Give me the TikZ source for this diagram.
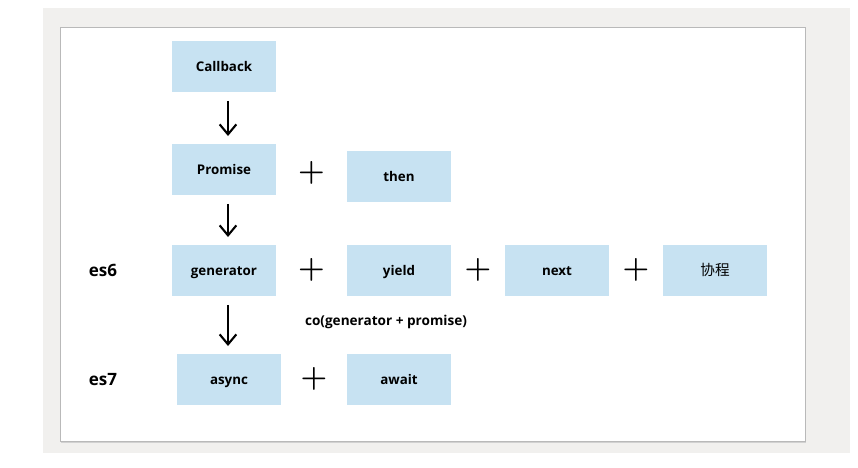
\documentclass[tikz,border=0pt]{standalone}
\usepackage{fontspec}
\setmainfont{Open Sans}
\newfontfamily\cjk{Noto Sans CJK SC}
\newfontfamily\plusfont{Latin Modern Roman}
\usepackage{xcolor}
\usetikzlibrary{arrows.meta, positioning, calc}

\definecolor{boxblue}{HTML}{C7E2F2}
\definecolor{pagegray}{HTML}{F1F0EE}
\definecolor{framegray}{HTML}{B9B9B9}

\begin{document}
\begin{tikzpicture}[x=0.03cm, y=-0.03cm, thick, >={Straight Barb[length=0.3cm, width=0.5cm]}]

		% Define block styles
		\tikzstyle{block} = [rectangle, fill=boxblue, minimum width=3.12cm, minimum height=1.53cm, inner sep=0pt, font=\bfseries\fontsize{11.4}{13}\selectfont, text height=11.6pt, text depth=1.4pt, text centered]
		\tikzstyle{plus} = [inner sep=0pt, font=\plusfont\bfseries\fontsize{26}{26}\selectfont]
		\tikzstyle{tag} = [font=\bfseries\fontsize{14.5}{16}\selectfont]
		\tikzstyle{flow} = [->, line width=1.8pt, shorten <=0.27cm, shorten >=0.21cm]

		% Background and frame
		\useasboundingbox (0,0) rectangle (858,467);
		\fill[pagegray] (43,8) rectangle (850,453);
		\fill[black!18] (61,28) rectangle (806,443);
		\draw[framegray, fill=white, line width=0.6pt] (60,27) rectangle (805,441);

		% Nodes
		\node[block] (callback) at (224,66) {Callback};
		\node[block, below of=callback, node distance=3.09cm] (promise) {Promise};
		\node[block, below of=promise, node distance=3.03cm] (generator) {generator};
		\node[block] (async) at (229,379) {async};
		\node[block] (then) at (399,176) {then};
		\node[block, right of=generator, node distance=5.25cm] (yield) {yield};
		\node[block, right of=yield, node distance=4.74cm] (next) {next};
		\node[block, right of=next, node distance=4.74cm] (xiecheng) {\cjk\mdseries\fontsize{12.5}{14}\selectfont 协程};
		\node[block] (await) at (399,379) {await};

		% Plus signs
		\node[plus] (p1) at ($(promise.east)!0.5!(then.west)$) {+};
		\node[plus] (p2) at ($(generator.east)!0.5!(yield.west)$) {+};
		\node[plus] (p3) at ($(yield.east)!0.5!(next.west)$) {+};
		\node[plus] (p4) at ($(next.east)!0.5!(xiecheng.west)$) {+};
		\node[plus] (p5) at ($(async.east)!0.5!(await.west)$) {+};

		% Arrows
		\draw[flow] ([xshift=0.12cm]callback.south) -- ([xshift=0.12cm]promise.north);
		\draw[flow] ([xshift=0.12cm]promise.south) -- ([xshift=0.12cm]generator.north);
		\draw[flow] ([xshift=0.12cm]generator.south) -- ([xshift=-0.03cm]async.north);

		% Labels
		\node[tag] (es6) at (103,270) {es6};
		\node[tag] (es7) at (103,380) {es7};
		\node[font=\fontsize{11.6}{13}\selectfont\bfseries] (co) at (386,322) {co(generator + promise)};

\end{tikzpicture}
\end{document}
